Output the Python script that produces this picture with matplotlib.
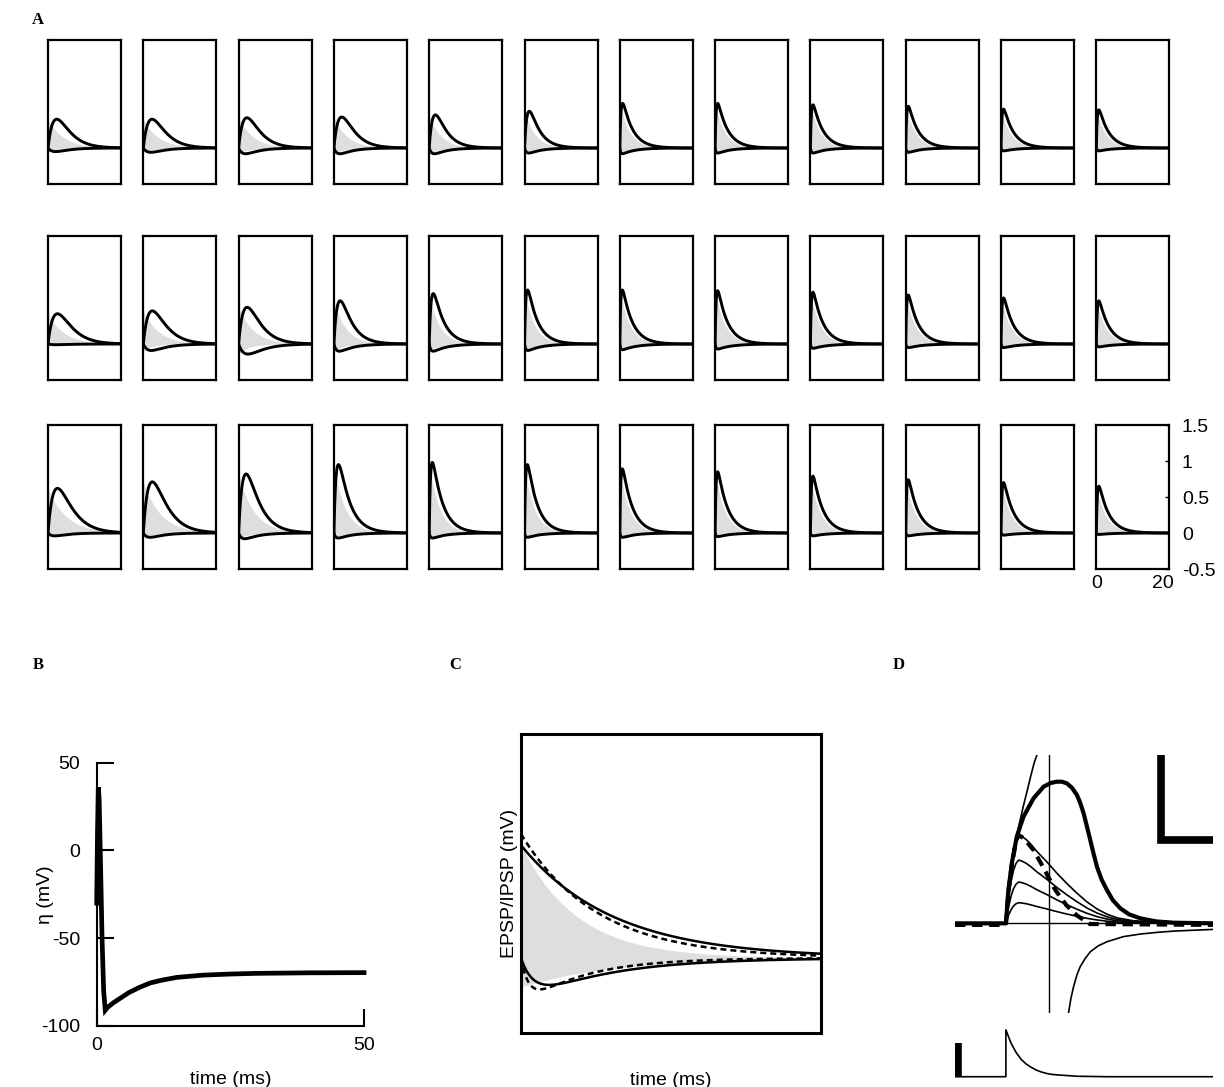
import numpy as np
import matplotlib
matplotlib.use("Agg")
import matplotlib.pyplot as plt

plt.rcParams['font.family'] = ['Liberation Sans', 'DejaVu Sans']
plt.rcParams['axes.unicode_minus'] = False

# ---------- Panel A: 3 rows x 12 kernels (peak, rise tau, decay tau in ms) ----------
epsp_amp = [
    [0.40, 0.40, 0.42, 0.43, 0.46, 0.51, 0.62, 0.62, 0.60, 0.58, 0.54, 0.53],
    [0.42, 0.46, 0.51, 0.60, 0.70, 0.75, 0.75, 0.74, 0.72, 0.68, 0.64, 0.60],
    [0.62, 0.71, 0.82, 0.95, 0.98, 0.95, 0.89, 0.85, 0.79, 0.74, 0.70, 0.65],
]
epsp_rise = [
    [2.2, 2.2, 2.0, 1.8, 1.2, 0.8, 0.35, 0.3, 0.3, 0.3, 0.3, 0.3],
    [2.4, 2.2, 2.0, 1.2, 0.6, 0.4, 0.3, 0.3, 0.3, 0.3, 0.3, 0.3],
    [2.2, 2.0, 1.5, 0.7, 0.4, 0.35, 0.3, 0.3, 0.3, 0.3, 0.3, 0.3],
]
epsp_decay = [
    [3.2, 3.2, 3.2, 3.2, 3.1, 3.0, 3.0, 3.0, 3.0, 3.0, 3.0, 3.0],
    [3.4, 3.4, 3.4, 3.2, 3.1, 3.0, 3.0, 3.0, 3.0, 3.0, 3.0, 3.0],
    [3.8, 3.8, 3.6, 3.3, 3.1, 3.0, 3.0, 3.0, 3.0, 3.0, 3.0, 3.0],
]
ipsp_amp = [
    [-0.05, -0.06, -0.08, -0.08, -0.08, -0.07, -0.08, -0.07, -0.07, -0.06, -0.04, -0.04],
    [-0.01, -0.09, -0.14, -0.10, -0.10, -0.09, -0.08, -0.07, -0.06, -0.05, -0.05, -0.04],
    [-0.04, -0.06, -0.08, -0.07, -0.07, -0.06, -0.06, -0.05, -0.04, -0.04, -0.03, -0.02],
]
ipsp_rise = [
    [1.5, 1.5, 1.3, 1.0, 0.8, 0.6, 0.3, 0.3, 0.3, 0.3, 0.3, 0.3],
    [1.5, 1.5, 2.0, 0.8, 0.5, 0.4, 0.3, 0.3, 0.3, 0.3, 0.3, 0.3],
    [1.2, 1.2, 1.0, 0.6, 0.4, 0.3, 0.3, 0.3, 0.3, 0.3, 0.3, 0.3],
]
ipsp_decay = [3.8, 4.2, 4.0]          # per row
gray_decay = [
    [4.7, 4.6, 4.4, 4.0, 3.5, 3.2, 2.9, 2.9, 2.9, 2.9, 2.9, 2.9],
    [4.8, 4.7, 4.5, 3.6, 3.1, 2.9, 2.9, 2.9, 2.9, 2.9, 2.9, 2.9],
    [5.5, 5.2, 4.6, 3.4, 3.0, 2.9, 2.9, 2.9, 2.9, 2.9, 2.9, 2.9],
]
a_yticks = [-0.5, 0, 0.5, 1, 1.5]
a_ylabels = ['-0.5', '0', '0.5', '1', '1.5']
a_xticks = [0, 20]

# ---------- Panel B: eta kernel ----------
b_time = [0, 0.15, 0.3, 0.45, 0.7, 1.0, 1.3, 1.6, 2, 3, 4, 5, 6, 8, 10, 12, 15, 20, 25, 30, 40, 50]
b_eta = [-30, 10, 36, 30, -5, -50, -80, -91, -89.5, -87, -85, -83, -81, -78, -75.5, -74, -72.3,
         -71, -70.4, -70, -69.7, -69.6]

# ---------- Panel C: EPSP/IPSP model vs fit (amplitude, time constants) ----------
c_up_solid = (1.51, 9.2)
c_up_dash = (1.66, 7.6)
c_low_solid = (-0.36, 1.3, 8.0)
c_low_dash = (-0.42, 0.8, 6.0)
c_gray_up = (1.51, 5.6)
c_gray_low = (-0.39, 9.0)

# ---------- Panel D: voltage responses (t in ms, v in mV) ----------
d_thick_t = [-10, 0, 0.5, 1.16, 2.14, 3.46, 5.43, 7.4, 8.8, 10.0, 11.0, 12.0, 13.0, 13.96, 14.6,
             15.27, 15.9, 16.58, 17.2, 17.9, 18.8, 19.87, 21.0, 22.5, 24.2, 26.4, 29.5, 33.0, 40.7]
d_thick_v = [0, 0, 2.58, 4.65, 6.72, 8.27, 9.69, 10.59, 10.88, 10.98, 10.98, 10.85, 10.5, 9.95,
             9.35, 8.53, 7.55, 6.46, 5.45, 4.39, 3.4, 2.58, 1.8, 1.16, 0.7, 0.39, 0.15, 0.05, 0]
d_thin_t = [0, 0.5, 1, 1.5, 2, 2.5, 3, 4, 5, 6, 8, 10, 12, 14, 16, 18, 20, 22, 25, 30, 40.7]
d_thin_shape = [0, 0.38, 0.65, 0.84, 0.95, 1.0, 0.99, 0.95, 0.89, 0.82, 0.7, 0.57, 0.45, 0.34,
                0.24, 0.16, 0.1, 0.06, 0.03, 0.01, 0]
d_thin_amp = [6.84, 4.9, 3.2, 1.6]
d_dash_t = [-10, 0, 0.5, 1.2, 2, 2.5, 3.5, 5.4, 7.4, 9.7, 11.9, 14, 16.5, 40.7]
d_dash_v = [-0.12, -0.12, 2.5, 4.6, 6.4, 6.84, 6.6, 5.7, 4.3, 2.6, 1.4, 0.6, -0.05, -0.12]
d_spike_t = [0, 0.5, 1.16, 2.0, 2.8, 3.5, 4.2, 5.0, 5.6, 6.1, 6.5]
d_spike_v = [0, 2.58, 4.65, 6.6, 8.0, 9.2, 10.3, 11.6, 12.5, 13.05, 14.5]
d_reset_t = [12.32, 12.78, 13.3, 13.96, 14.6, 15.6, 16.6, 18.2, 19.9, 23.1, 26.4, 29.7, 33.0, 40.7]
d_reset_v = [-6.93, -5.82, -4.91, -4.0, -3.36, -2.71, -2.2, -1.73, -1.42, -1.03, -0.83, -0.7,
             -0.6, -0.47]
d_marker_t = 8.5
d_bar_t = [30.4, 30.4, 40.7]
d_bar_v = [13.05, 6.46, 6.46]
d_cur_t = [-10, 0, 0, 1, 2, 3, 4, 5, 6, 7, 8, 9, 10, 14, 20, 40.7]
d_cur_i = [0, 0, 1, 0.72, 0.52, 0.37, 0.27, 0.2, 0.14, 0.1, 0.07, 0.05, 0.04, 0.01, 0, 0]
d_cur_bar = [0, 0.72]

W, H = 1224, 1087
fig = plt.figure(figsize=(W / 100, H / 100), dpi=100)


def box(l, t, r, b):
    return fig.add_axes([l / W, 1 - b / H, (r - l) / W, (b - t) / H])


def kernel(t, amp, tr, td):
    y = np.exp(-t / td) - np.exp(-t / tr)
    return amp * y / y.max()


gray = '#dedede'

# ---------- A ----------
t = np.linspace(0, 22, 400)
row_tops = [40, 236, 425]
for r in range(3):
    for c in range(12):
        left = 48 + 95.3 * c
        ax = box(left, row_tops[r], left + 73, row_tops[r] + 144)
        ep = kernel(t, epsp_amp[r][c], epsp_rise[r][c], epsp_decay[r][c])
        ip = kernel(t, ipsp_amp[r][c], ipsp_rise[r][c], ipsp_decay[r])
        g_up = epsp_amp[r][c] * np.exp(-t / gray_decay[r][c])
        g_low = ipsp_amp[r][c] * np.exp(-t / 3.0)
        ax.fill_between(t, g_low, g_up, color=gray, lw=0, zorder=1)
        ax.plot(t, ep, color='k', lw=2.1, zorder=3)
        ax.plot(t, ip, color='k', lw=2.1, zorder=3)
        ax.set_xlim(0, 22)
        ax.set_ylim(-0.5, 1.5)
        for s in ax.spines.values():
            s.set_linewidth(1.6)
        if r == 2 and c == 11:
            ax.yaxis.tick_right()
            ax.set_yticks(a_yticks)
            ax.set_yticklabels(a_ylabels)
            ax.set_xticks(a_xticks)
            ax.tick_params(axis='y', direction='in', length=3, width=1, pad=9, labelsize=14)
            ax.tick_params(axis='x', direction='in', length=0, pad=4, labelsize=14)
        else:
            ax.set_xticks([])
            ax.set_yticks([])

# ---------- B ----------
axB = box(96.7, 762.7, 364, 1026)
axB.plot(b_time, b_eta, color='k', lw=3.4, solid_joinstyle='miter', clip_on=False)
axB.set_xlim(0, 50)
axB.set_ylim(-100, 50)
axB.spines['top'].set_visible(False)
axB.spines['right'].set_visible(False)
axB.spines['left'].set_linewidth(1.5)
axB.spines['bottom'].set_linewidth(1.5)
axB.set_xticks([0, 50])
axB.set_yticks([-100, -50, 0, 50])
axB.tick_params(direction='in', length=12, width=1.5, labelsize=14)
axB.tick_params(axis='y', pad=12)
axB.tick_params(axis='x', pad=8)
axB.set_xlabel('time (ms)', fontsize=14, labelpad=12)
axB.set_ylabel('η (mV)', fontsize=14)
axB.yaxis.set_label_coords(-0.16, 0.5)

# ---------- C ----------
axC = box(521, 734, 820.7, 1032.7)
tc = np.linspace(0, 30, 400)
up_s = c_up_solid[0] * np.exp(-tc / c_up_solid[1])
up_d = c_up_dash[0] * np.exp(-tc / c_up_dash[1])
lo_s = kernel(tc, *c_low_solid)
lo_d = kernel(tc, *c_low_dash)
g_up = c_gray_up[0] * np.exp(-tc / c_gray_up[1])
g_lo = c_gray_low[0] * np.exp(-tc / c_gray_low[1])
axC.fill_between(tc, g_lo, g_up, color=gray, lw=0, zorder=1)
axC.plot(np.r_[0, tc], np.r_[0, up_s], color='k', lw=1.8, zorder=3)
axC.plot(tc, up_d, color='k', lw=1.8, ls=(0, (2.4, 1.6)), zorder=3)
axC.plot(tc, lo_s, color='k', lw=1.8, zorder=3)
axC.plot(tc, lo_d, color='k', lw=1.8, ls=(0, (2.4, 1.6)), zorder=3)
axC.set_xlim(0, 30)
axC.set_ylim(-1, 3)
axC.set_xticks([])
axC.set_yticks([])
for s in axC.spines.values():
    s.set_linewidth(2.2)
axC.set_xlabel('time (ms)', fontsize=14, labelpad=28)
axC.set_ylabel('EPSP/IPSP (mV)', fontsize=14)
axC.yaxis.set_label_coords(-0.01, 0.5)

# ---------- D ----------
axD = box(955, 755, 1213, 1013)
axD.set_xlim(-10, 40.7)
axD.set_ylim(-6.95, 13.05)
axD.axis('off')
axD.axhline(0, color='k', lw=1.0)
axD.axvline(d_marker_t, color='k', lw=1.0)
for a in d_thin_amp:
    axD.plot(d_thin_t, [a * s for s in d_thin_shape], color='k', lw=1.2)
axD.plot(d_spike_t, d_spike_v, color='k', lw=1.2)
axD.plot(d_reset_t, d_reset_v, color='k', lw=1.2)
axD.plot(d_dash_t, d_dash_v, color='k', lw=3.0, ls=(0, (2.5, 1.6)))
axD.plot(d_thick_t, d_thick_v, color='k', lw=3.0)
axD.plot(d_bar_t, d_bar_v, color='k', lw=5.5, solid_joinstyle='miter', solid_capstyle='butt',
         clip_on=False)

axI = box(955, 1028, 1213, 1080)
axI.set_xlim(-10, 40.7)
axI.set_ylim(-0.07, 1.04)
axI.axis('off')
axI.plot(d_cur_t, d_cur_i, color='k', lw=1.2)
axI.plot([-9.5, -9.5], d_cur_bar, color='k', lw=5.5, solid_capstyle='butt')

# ---------- panel letters ----------
for lab, x, y in [('A', 38, 20), ('B', 38, 665), ('C', 455, 665), ('D', 899, 665)]:
    fig.text(x / W, 1 - y / H, lab, fontsize=12, fontweight='bold',
             family=['Liberation Serif', 'DejaVu Serif'], ha='center', va='center')

fig.savefig('out.png', dpi=100)
